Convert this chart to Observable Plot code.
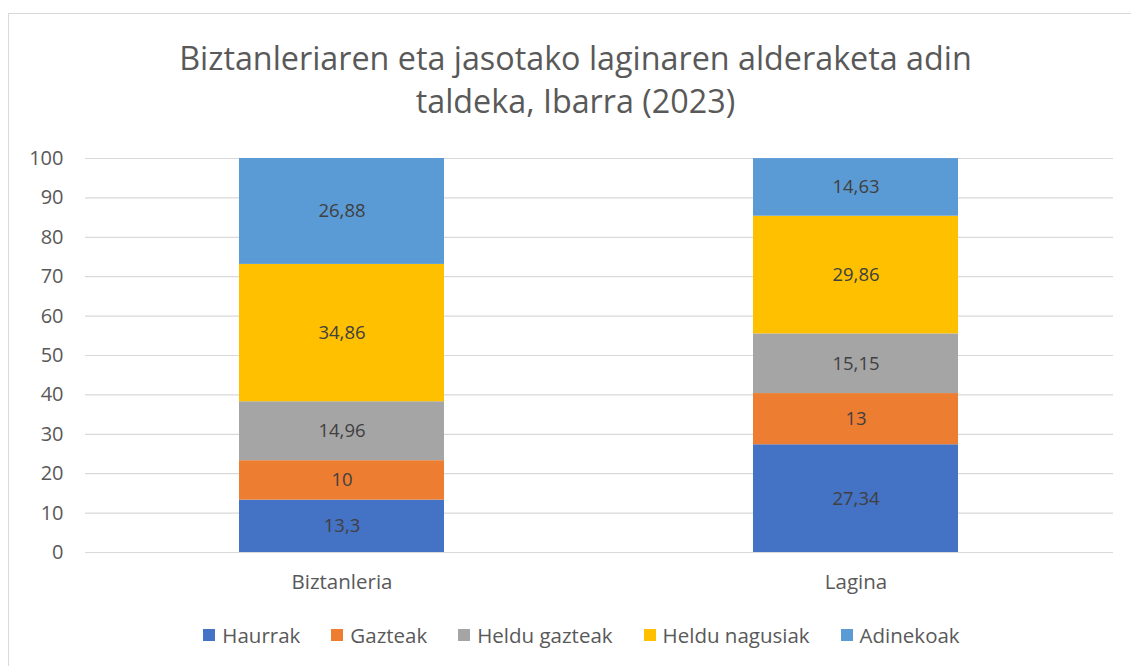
<!DOCTYPE html>
<html><head><meta charset="utf-8">
<script src="https://cdn.jsdelivr.net/npm/d3@7"></script>
<script src="https://cdn.jsdelivr.net/npm/@observablehq/plot@0.6"></script>
<style>
body{margin:0;background:#fff;font-family:"Open Sans",Lato,sans-serif;overflow:hidden;}
#frame{position:absolute;left:8px;top:13px;width:1140px;height:680px;border:1.5px solid #d9d9d9;box-sizing:border-box;}
#title{position:absolute;left:0;top:36px;width:1151px;text-align:center;font-size:32.3px;line-height:43px;color:#595959;}
#chart{position:absolute;left:0;top:0;}
#legend{position:absolute;left:0;top:622px;width:1163px;height:26px;display:flex;justify-content:center;align-items:center;font-size:20.5px;color:#595959;}
#legend .item{display:flex;align-items:center;margin-right:31px;white-space:nowrap;}
#legend .item:last-child{margin-right:0;}
#legend .sw{display:inline-block;width:12px;height:12px;margin-right:7px;}
</style></head>
<body>
<div id="frame"></div>
<div id="title">Biztanleriaren eta jasotako laginaren alderaketa adin<br>taldeka, Ibarra (2023)</div>
<div id="chart"></div>
<div id="legend"></div>
<script>
const groups = ["Biztanleria", "Lagina"];
const series = ["Haurrak", "Gazteak", "Heldu gazteak", "Heldu nagusiak", "Adinekoak"];
const colors = ["#4472C4", "#ED7D31", "#A5A5A5", "#FFC000", "#5B9BD5"];
const biztanleria = [13.3, 10, 14.96, 34.86, 26.88];
const lagina = [27.34, 13, 15.15, 29.86, 14.63];
const yTicks = [0, 10, 20, 30, 40, 50, 60, 70, 80, 90, 100];

const data = [];
series.forEach((s, i) => data.push({group: groups[0], series: s, value: biztanleria[i]}));
series.forEach((s, i) => data.push({group: groups[1], series: s, value: lagina[i]}));
const fmt = v => String(v).replace(".", ",");

const plot = Plot.plot({
  width: 1131, height: 600,
  marginTop: 158, marginBottom: 48, marginLeft: 85, marginRight: 18,
  style: {fontFamily: "'Open Sans', Lato, sans-serif", fontSize: "20px", color: "#595959", background: "transparent"},
  x: {domain: groups, paddingInner: 0.601, paddingOuter: 0.3, label: null, tickSize: 0, tickPadding: 22, fontSize: 20.5},
  y: {domain: [0, 100], ticks: yTicks, label: null, tickSize: 0, tickPadding: 22, tickFormat: d => String(d)},
  color: {domain: series, range: colors},
  marks: [
    Plot.ruleY(yTicks, {stroke: "#d9d9d9", strokeWidth: 1.2}),
    Plot.barY(data, {x: "group", y: "value", fill: "series"}),
    Plot.text(data, Plot.stackY({x: "group", y: "value", text: d => fmt(d.value), fill: "#404040", fontSize: 18.5})),
    Plot.axisX({tickSize: 0, tickPadding: 22, fontSize: 20.5, label: null}),
    Plot.axisY({ticks: yTicks, tickSize: 0, tickPadding: 22, fontSize: 20, label: null})
  ]
});
document.getElementById("chart").appendChild(plot);

const leg = document.getElementById("legend");
series.forEach((s, i) => {
  const it = document.createElement("span"); it.className = "item";
  const sw = document.createElement("span"); sw.className = "sw"; sw.style.background = colors[i];
  it.appendChild(sw); it.appendChild(document.createTextNode(s));
  leg.appendChild(it);
});
</script>
</body></html>
